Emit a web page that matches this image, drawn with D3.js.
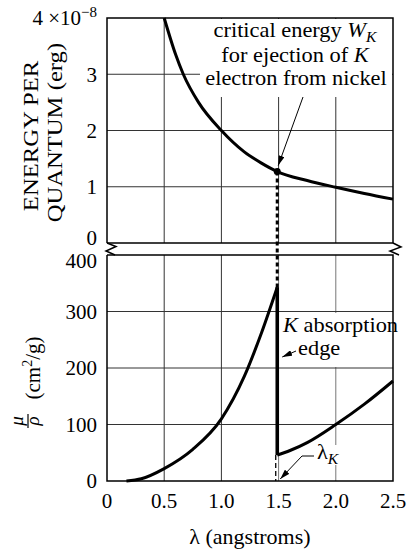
<!DOCTYPE html>
<html>
<head>
<meta charset="utf-8">
<script src="https://cdn.jsdelivr.net/npm/d3@7"></script>
<style>
  body { margin: 0; background: #fff; }
  svg text { font-family: "Liberation Serif", "DejaVu Serif", serif; fill: #000; }
</style>
</head>
<body>
<div id="chart"></div>
<script>
// values
var xTicks = [0, 0.5, 1.0, 1.5, 2.0, 2.5];
var xTickLabels = ["0", "0.5", "1.0", "1.5", "2.0", "2.5"];
var topTicks = [0, 1, 2, 3];
var botTicks = [0, 100, 200, 300, 400];
var xGrid = [0.5, 1.0, 1.5, 2.0];
var topGrid = [1, 2, 3];
var botGrid = [100, 200, 300];

var energyLambda = [0.5, 0.6, 0.667, 0.8, 1.0, 1.2, 1.35, 1.488, 1.75, 2.0, 2.25, 2.5];
var energyValue  = [4.0, 3.35, 3.0, 2.5, 2.0, 1.62, 1.42, 1.27, 1.11, 0.99, 0.88, 0.78];

var muLeftLambda = [0.17, 0.3, 0.5, 0.75, 1.0, 1.2, 1.35, 1.488];
var muLeftValue  = [0, 4, 22, 56, 110, 185, 262, 343];

var muRightLambda = [1.488, 1.6, 1.75, 2.0, 2.25, 2.5];
var muRightValue  = [46, 54, 68, 100, 136, 177];

var lambdaK = 1.488;
var energyK = 1.27;

var W = 408, H = 550;

var svg = d3.select("#chart").append("svg")
  .attr("width", W)
  .attr("height", H)
  .attr("font-family", "'Liberation Serif', 'DejaVu Serif', serif");

svg.append("rect").attr("width", W).attr("height", H).attr("fill", "#fff");

var x = d3.scaleLinear().domain([0, 2.5]).range([107, 393]);
var yTop = d3.scaleLinear().domain([0, 4]).range([243, 18]);
var yBot = d3.scaleLinear().domain([0, 400]).range([481, 255]);

var defs = svg.append("defs");
defs.append("marker")
  .attr("id", "arr")
  .attr("viewBox", "0 0 10 6")
  .attr("refX", 10).attr("refY", 3)
  .attr("markerWidth", 10).attr("markerHeight", 6)
  .attr("markerUnits", "userSpaceOnUse")
  .attr("orient", "auto")
  .append("path")
  .attr("d", "M0,0 L10,3 L0,6 Z")
  .attr("fill", "#000");

// grid
var grid = svg.append("g").attr("stroke", "#333").attr("stroke-width", 1);
grid.selectAll(".vt").data(xGrid).enter().append("line")
  .attr("x1", d => x(d)).attr("x2", d => x(d))
  .attr("y1", yTop(4)).attr("y2", yTop(0));
grid.selectAll(".vb").data(xGrid).enter().append("line")
  .attr("x1", d => x(d)).attr("x2", d => x(d))
  .attr("y1", yBot(400)).attr("y2", yBot(0))
  .attr("stroke", d => d >= 1.5 ? "#777" : "#333");
grid.selectAll(".ht").data(topGrid).enter().append("line")
  .attr("x1", x(0)).attr("x2", x(2.5))
  .attr("y1", d => yTop(d)).attr("y2", d => yTop(d));
grid.selectAll(".hb").data(botGrid).enter().append("line")
  .attr("x1", x(0)).attr("x2", x(2.5))
  .attr("y1", d => yBot(d)).attr("y2", d => yBot(d));

// white boxes behind the notes
svg.append("rect").attr("x", 200).attr("y", 19).attr("width", 192).attr("height", 78).attr("fill", "#fff");
svg.append("rect").attr("x", 281).attr("y", 313).attr("width", 111).attr("height", 54).attr("fill", "#fff");
svg.append("rect").attr("x", 314).attr("y", 445).attr("width", 31).attr("height", 20).attr("fill", "#fff");

// frames
var frame = svg.append("g").attr("stroke", "#000").attr("stroke-width", 1.5).attr("fill", "none");
frame.append("path")
  .attr("d", "M" + x(0) + "," + yTop(0) + " V" + yTop(4) + " H" + x(2.5) + " V" + yTop(0) + " H" + x(0));
frame.append("path")
  .attr("d", "M" + x(0) + "," + yBot(400) + " V" + yBot(0) + " H" + x(2.5) + " V" + yBot(400) + " H" + x(0));
// break marks
frame.append("polyline").attr("points", [[107, 243], [116, 246.5], [106, 251], [115, 255]].join(" "));
frame.append("polyline").attr("points", [[393, 243], [401, 247], [390, 251], [399, 255]].join(" "));

// curves
var line = d3.line().x(d => x(d[0])).curve(d3.curveMonotoneX);
var curves = svg.append("g").attr("fill", "none").attr("stroke", "#000").attr("stroke-width", 3);
curves.append("path")
  .attr("d", line.y(d => yTop(d[1]))(d3.zip(energyLambda, energyValue)));
curves.append("path")
  .attr("d", line.y(d => yBot(d[1]))(d3.zip(muLeftLambda, muLeftValue)));
curves.append("path")
  .attr("d", line.y(d => yBot(d[1]))(d3.zip(muRightLambda, muRightValue)));

// K edge
var xk = x(lambdaK);
svg.append("line")
  .attr("x1", xk).attr("x2", xk)
  .attr("y1", yTop(energyK)).attr("y2", yBot(muLeftValue[muLeftValue.length - 1]))
  .attr("stroke", "#000").attr("stroke-width", 3).attr("stroke-dasharray", "4,3");
svg.append("line")
  .attr("x1", xk).attr("x2", xk)
  .attr("y1", yBot(muLeftValue[muLeftValue.length - 1])).attr("y2", yBot(muRightValue[0]))
  .attr("stroke", "#000").attr("stroke-width", 3.5);
svg.append("line")
  .attr("x1", xk - 1.5).attr("x2", xk - 1.5)
  .attr("y1", yBot(muRightValue[0])).attr("y2", yBot(0))
  .attr("stroke", "#000").attr("stroke-width", 1.3).attr("stroke-dasharray", "5,3");
svg.append("circle")
  .attr("cx", xk).attr("cy", yTop(energyK)).attr("r", 3.5).attr("fill", "#000");

// ticks
svg.append("g").selectAll("text").data(xTicks).enter().append("text")
  .attr("x", d => x(d)).attr("y", 508)
  .attr("text-anchor", "middle").attr("font-size", 21)
  .text((d, i) => xTickLabels[i]);

svg.append("g").selectAll("text").data(topTicks).enter().append("text")
  .attr("x", 97).attr("y", d => yTop(d))
  .attr("dy", d => d === 0 ? "0.1em" : "0.35em")
  .attr("text-anchor", "end").attr("font-size", 21)
  .text(d => d);

svg.append("g").selectAll("text").data(botTicks).enter().append("text")
  .attr("x", 97).attr("y", d => yBot(d))
  .attr("dy", d => d === 400 ? "0.62em" : "0.35em")
  .attr("text-anchor", "end").attr("font-size", 21)
  .text(d => d);

var exp = svg.append("text")
  .attr("x", 97).attr("y", yTop(4)).attr("dy", "0.35em")
  .attr("text-anchor", "end").attr("font-size", 21);
exp.append("tspan").text("4 \u00d710");
exp.append("tspan").attr("font-size", 15).attr("dy", -8).text("\u22128");

// axis titles
svg.append("text")
  .attr("x", 250).attr("y", 544)
  .attr("text-anchor", "middle").attr("font-size", 22)
  .text("\u03bb (angstroms)");

var yl = svg.append("g").attr("transform", "translate(0,136) rotate(-90)");
yl.append("text").attr("y", 38).attr("text-anchor", "middle").attr("font-size", 22)
  .attr("transform", "scale(1.12,1)").text("ENERGY PER");
yl.append("text").attr("y", 62).attr("text-anchor", "middle").attr("font-size", 22)
  .attr("transform", "scale(1.12,1)").attr("x", 3).text("QUANTUM (erg)");

var ml = svg.append("g").attr("transform", "translate(0,368) rotate(-90)");
var cm = ml.append("text").attr("y", 40).attr("text-anchor", "middle").attr("font-size", 21);
cm.append("tspan").text("(cm");
cm.append("tspan").attr("font-size", 14).attr("dy", -8).text("2");
cm.append("tspan").attr("dy", 8).text("/g)");
var fr = svg.append("g").attr("transform", "translate(0,421) rotate(-90)");
fr.append("text").attr("y", 23).attr("text-anchor", "middle").attr("font-size", 19)
  .attr("font-style", "italic").text("\u03bc");
fr.append("line").attr("x1", -7).attr("x2", 7).attr("y1", 28).attr("y2", 28)
  .attr("stroke", "#000").attr("stroke-width", 1.2);
fr.append("text").attr("y", 39).attr("text-anchor", "middle").attr("font-size", 19)
  .attr("font-style", "italic").text("\u03c1");

// notes
function note(px, py, anchor) {
  return svg.append("text")
    .attr("transform", "translate(" + px + "," + py + ") scale(1.12,1)")
    .attr("text-anchor", anchor).attr("font-size", 20);
}
var n1 = note(295, 37, "middle");
n1.append("tspan").text("critical energy ");
n1.append("tspan").attr("font-style", "italic").text("W");
n1.append("tspan").attr("font-style", "italic").attr("font-size", 14).attr("dy", 5).text("K");
var n2 = note(295, 62, "middle");
n2.append("tspan").text("for ejection of ");
n2.append("tspan").attr("font-style", "italic").text("K");
note(296, 85, "middle").text("electron from nickel");

var n3 = note(283, 332, "start");
n3.append("tspan").attr("font-style", "italic").text("K");
n3.append("tspan").text(" absorption");
note(298, 355, "start").text("edge");

var n4 = note(317, 459, "start");
n4.append("tspan").text("\u03bb");
n4.append("tspan").attr("font-style", "italic").attr("font-size", 14).attr("dy", 5).text("K");

// arrows
var arrows = svg.append("g").attr("stroke", "#000").attr("stroke-width", 1).attr("fill", "none");
arrows.append("line")
  .attr("x1", 303).attr("y1", 97).attr("x2", xk + 1).attr("y2", yTop(energyK) - 6)
  .attr("marker-end", "url(#arr)");
arrows.append("line")
  .attr("x1", 296).attr("y1", 351).attr("x2", xk + 5).attr("y2", 357)
  .attr("marker-end", "url(#arr)");
arrows.append("polyline")
  .attr("points", [[314, 456], [302, 456], [xk + 3, yBot(0) - 2]].join(" "))
  .attr("marker-end", "url(#arr)");
</script>
</body>
</html>
